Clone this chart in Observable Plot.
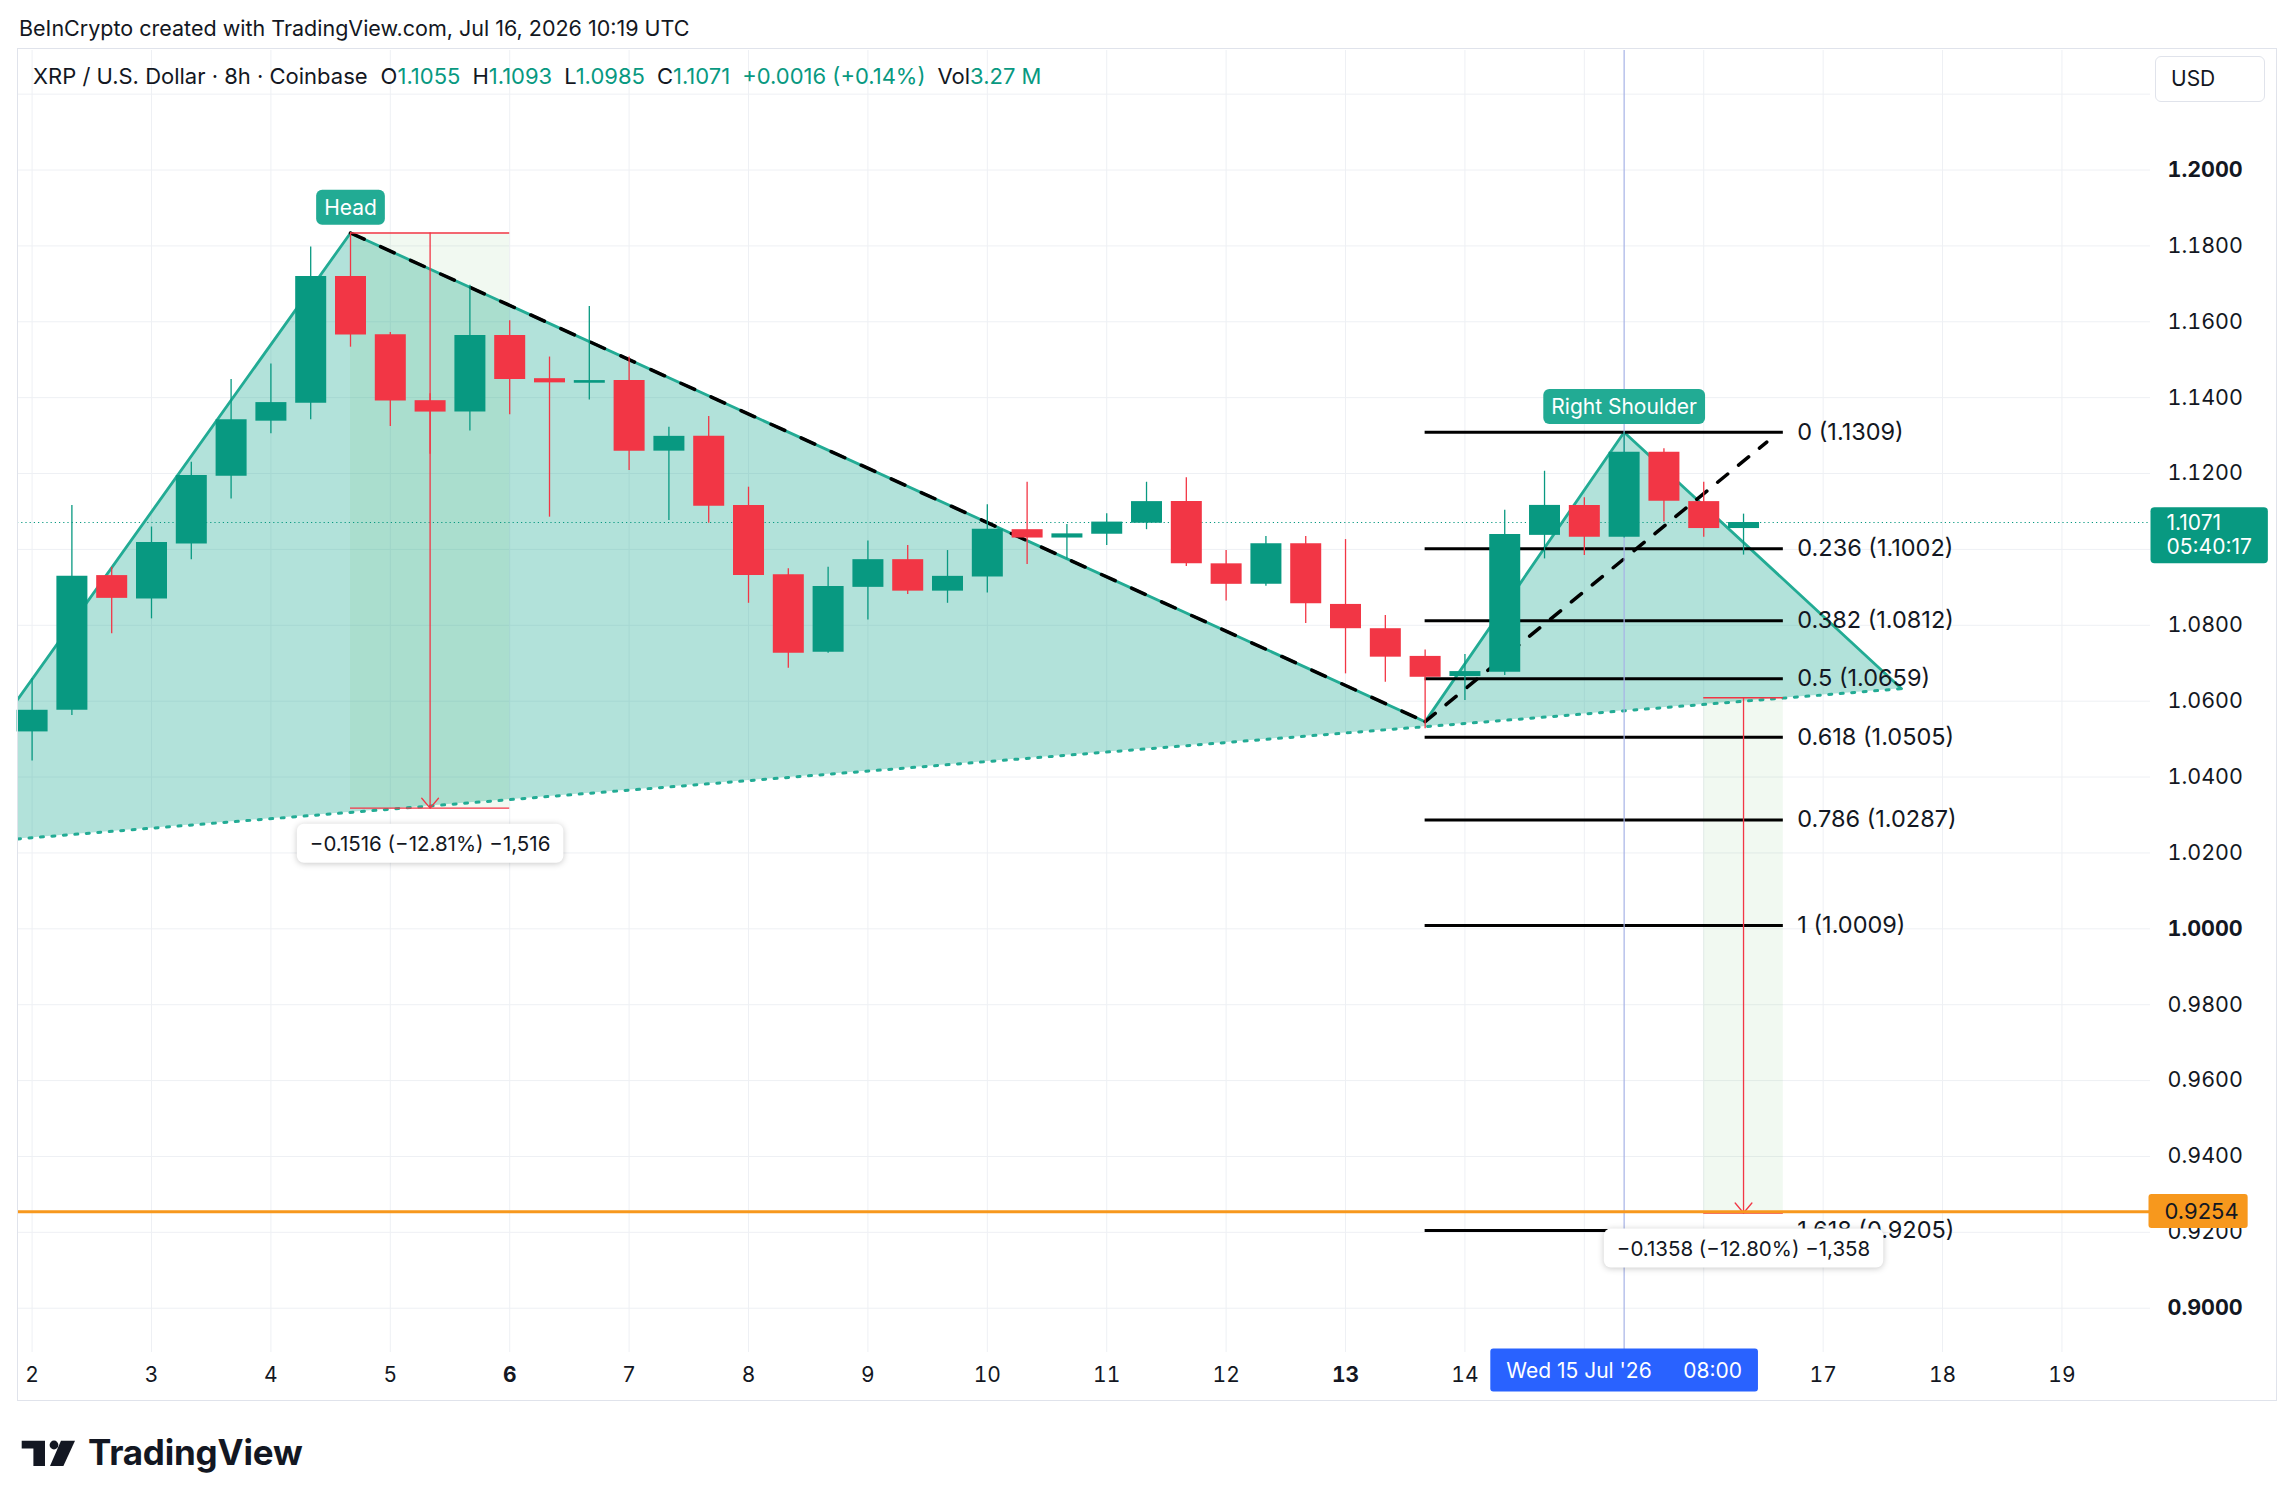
<!DOCTYPE html>
<html><head><meta charset="utf-8">
<script src="https://cdn.jsdelivr.net/npm/d3@7"></script>
<script src="https://cdn.jsdelivr.net/npm/@observablehq/plot@0.6"></script>
<style>
html,body{margin:0;padding:0;background:#fff;}
body{width:2294px;height:1509px;position:relative;overflow:hidden;font-family:Inter,"Noto Sans",sans-serif;color:#131722;}
#credit{position:absolute;left:19px;top:14px;font-size:21.5px;line-height:28px;white-space:pre;}
#frame{position:absolute;left:17px;top:48px;width:2260px;height:1353px;border:1px solid #e0e3eb;box-sizing:border-box;pointer-events:none;}
#chart{position:absolute;left:0;top:48px;}
#legend{position:absolute;left:33px;top:62px;font-size:22px;line-height:28px;white-space:pre;}
#legend .v{color:#089981;}
#usd{position:absolute;left:2155px;top:56px;width:110px;height:46px;box-sizing:border-box;border:1px solid #e0e3eb;border-radius:6px;font-size:21px;line-height:44px;padding-left:15px;background:#fff;}
#logo{position:absolute;left:21px;top:1436px;height:40px;}
#logo svg{position:absolute;left:0;top:4px;}
#logo span{position:absolute;left:67px;top:-4px;font-size:35px;font-weight:700;letter-spacing:-0.2px;line-height:40px;color:#131722;}
</style></head>
<body>
<div id="credit">BeInCrypto created with TradingView.com, Jul 16, 2026 10:19 UTC</div>
<div id="chart"></div>
<div id="legend"></div>
<div id="usd">USD</div>
<div id="frame"></div>
<div id="logo"><svg width="56" height="27" viewBox="0 0 56 27"><path d="M0.7,0.7H24V26H12.4V8.4H0.7Z" fill="#131722"/><circle cx="33" cy="5" r="4.4" fill="#131722"/><path d="M40,0.7H54L42.4,26H29Z" fill="#131722"/></svg><span>TradingView</span></div>
<script>
// ---------- data ----------
const candleTimes = [
  "2026-07-02T00:00Z","2026-07-02T08:00Z","2026-07-02T16:00Z",
  "2026-07-03T00:00Z","2026-07-03T08:00Z","2026-07-03T16:00Z",
  "2026-07-04T00:00Z","2026-07-04T08:00Z","2026-07-04T16:00Z",
  "2026-07-05T00:00Z","2026-07-05T08:00Z","2026-07-05T16:00Z",
  "2026-07-06T00:00Z","2026-07-06T08:00Z","2026-07-06T16:00Z",
  "2026-07-07T00:00Z","2026-07-07T08:00Z","2026-07-07T16:00Z",
  "2026-07-08T00:00Z","2026-07-08T08:00Z","2026-07-08T16:00Z",
  "2026-07-09T00:00Z","2026-07-09T08:00Z","2026-07-09T16:00Z",
  "2026-07-10T00:00Z","2026-07-10T08:00Z","2026-07-10T16:00Z",
  "2026-07-11T00:00Z","2026-07-11T08:00Z","2026-07-11T16:00Z",
  "2026-07-12T00:00Z","2026-07-12T08:00Z","2026-07-12T16:00Z",
  "2026-07-13T00:00Z","2026-07-13T08:00Z","2026-07-13T16:00Z",
  "2026-07-14T00:00Z","2026-07-14T08:00Z","2026-07-14T16:00Z",
  "2026-07-15T00:00Z","2026-07-15T08:00Z","2026-07-15T16:00Z",
  "2026-07-16T00:00Z","2026-07-16T08:00Z"];
const opens  = [1.0519,1.0576,1.0931, 1.0869,1.1014,1.1193, 1.1338,1.1385,1.1719, 1.1566,1.1392,1.1362,
                1.1564,1.1450,1.1438, 1.1445,1.1259,1.1298, 1.1116,1.0933,1.0729, 1.0900,1.0973,1.0890,
                1.0927,1.1052,1.1030, 1.1040,1.1069,1.1126, 1.0962,1.0908,1.1015, 1.0855,1.0791,1.0718,
                1.0665,1.0676,1.1037, 1.1116,1.1032,1.1256, 1.1126,1.1055];
const highs  = [1.0660,1.1116,1.0953, 1.1059,1.1230,1.1448, 1.1489,1.1797,1.1834, 1.1572,1.1410,1.1696,
                1.1603,1.1507,1.1640, 1.1507,1.1322,1.1350, 1.1164,1.0949,1.0953, 1.1022,1.1010,1.0997,
                1.1118,1.1177,1.1066, 1.1094,1.1177,1.1189, 1.0997,1.1034,1.1034, 1.1026,1.0826,1.0735,
                1.0723,1.1103,1.1206, 1.1136,1.1309,1.1265, 1.1177,1.1093];
const lows   = [1.0442,1.0562,1.0778, 1.0817,1.0973,1.1133, 1.1305,1.1342,1.1533, 1.1324,1.1251,1.1312,
                1.1355,1.1085,1.1394, 1.1208,1.1076,1.1069, 1.0858,1.0687,1.0726, 1.0814,1.0881,1.0858,
                1.0885,1.0960,1.0975, 1.1010,1.1052,1.0955, 1.0864,1.0903,1.0805, 1.0672,1.0650,1.0527,
                1.0602,1.0668,1.0975, 1.0984,1.1030,1.1072, 1.1032,1.0985];
const closes = [1.0576,1.0929,1.0871, 1.1018,1.1195,1.1342, 1.1387,1.1719,1.1565, 1.1391,1.1362,1.1564,
                1.1448,1.1439,1.1445, 1.1259,1.1298,1.1114, 1.0931,1.0726,1.0902, 1.0973,1.0890,1.0929,
                1.1053,1.1030,1.1041, 1.1072,1.1126,1.0962, 1.0908,1.1015,1.0857, 1.0791,1.0716,1.0663,
                1.0678,1.1039,1.1116, 1.1032,1.1256,1.1127, 1.1055,1.1071];
const lastVolume = "3.27 M";
const countdown = "05:40:17";

// head & shoulders drawing
const patternTimes  = ["2026-07-01T21:04Z","2026-07-04T16:00Z","2026-07-13T16:00Z","2026-07-15T08:00Z","2026-07-17T15:46Z"];
const patternPrices = [1.0604, 1.1834, 1.0546, 1.1309, 1.0633];
const necklineTimes  = ["2026-07-01T21:04Z","2026-07-17T15:46Z"];
const necklinePrices = [1.0237, 1.0633];
const patternLabels = ["Head", "Right Shoulder"];
const patternLabelTimes = ["2026-07-04T16:00Z","2026-07-15T08:00Z"];
const patternLabelPrices = [1.1834, 1.1309];
const trendTimes  = ["2026-07-13T16:00Z","2026-07-16T12:40Z"];
const trendPrices = [1.0546, 1.1283];

// fibonacci retracement
const fibLevels = [0, 0.236, 0.382, 0.5, 0.618, 0.786, 1, 1.618];
const fibPrices = [1.1309, 1.1002, 1.0812, 1.0659, 1.0505, 1.0287, 1.0009, 0.9205];
const fibStart = "2026-07-13T16:00Z", fibEnd = "2026-07-16T16:00Z";

// price-range measurements
const measureStart = ["2026-07-04T16:00Z","2026-07-16T00:00Z"];
const measureEnd   = ["2026-07-06T00:00Z","2026-07-16T16:00Z"];
const measureMid   = ["2026-07-05T08:00Z","2026-07-16T08:00Z"];
const measureFrom  = [1.1834, 1.0609];
const measureTo    = [1.0318, 0.9251];

// horizontal support, crosshair
const supportPrice = 0.9254;
const crossTime = "2026-07-15T08:00Z";
const crossLabel = "Wed 15 Jul '26\u2003\u200208:00";

// axes (labels hidden under the crosshair / last-price tags are left out)
const xGridDays = [2,3,4,5,6,7,8,9,10,11,12,13,14,15,16,17,18,19];
const xTickDays = [2,3,4,5,6,7,8,9,10,11,12,13,14,17,18,19];
const boldDays = [6,13];
const yTicks = [0.90,0.92,0.94,0.96,0.98,1.00,1.02,1.04,1.06,1.08,1.12,1.14,1.16,1.18,1.20];
const boldY = [0.90,1.00,1.20];
const yGrid = [0.90,0.92,0.94,0.96,0.98,1.00,1.02,1.04,1.06,1.08,1.10,1.12,1.14,1.16,1.18,1.20,1.22];

// ---------- build ----------
const UP = "#089981", DOWN = "#f23645", TEAL = "#22ab94", RED = "#f23645";
const D = s => new Date(s);
const candles = candleTimes.map((t, i) => ({date: D(t), open: opens[i], high: highs[i], low: lows[i], close: closes[i]}));
const pattern = patternTimes.map((t, i) => ({date: D(t), price: patternPrices[i]}));
const neckline = necklineTimes.map((t, i) => ({date: D(t), price: necklinePrices[i]}));
const trend = trendTimes.map((t, i) => ({date: D(t), price: trendPrices[i]}));
const headSeg = pattern.slice(1, 3);
const fibs = fibLevels.map((l, i) => ({level: l, price: fibPrices[i]}));
const labels = patternLabels.map((t, i) => ({text: t, date: D(patternLabelTimes[i]), price: patternLabelPrices[i]}));
const measures = measureStart.map((s, i) => ({x1: D(s), x2: D(measureEnd[i]), xm: D(measureMid[i]), from: measureFrom[i], to: measureTo[i]}));
const minus = s => s.replace(/-/g, "\u2212");
const measureText = m => {
  const diff = m.to - m.from;
  return minus(`${diff.toFixed(4)} (${(diff / m.from * 100).toFixed(2)}%) ${d3.format(",")(Math.round(diff * 10000))}`);
};
const dayDate = d => new Date(Date.UTC(2026, 6, d));
const last = candles[candles.length - 1];
const prev = candles[candles.length - 2];

// polygon fill of the pattern, drawn through the plot's scales
const polygonFill = (index, scales) => {
  const pts = pattern.concat([neckline[0]]);
  const p = document.createElementNS("http://www.w3.org/2000/svg", "path");
  p.setAttribute("d", "M" + pts.map(q => scales.x(q.date) + "," + scales.y(q.price)).join("L") + "Z");
  p.setAttribute("fill", TEAL);
  p.setAttribute("fill-opacity", 0.35);
  return p;
};

const chart = Plot.plot({
  width: 2294, height: 1352,
  marginLeft: 17, marginRight: 144, marginTop: 2, marginBottom: 48,
  style: {fontFamily: "Inter, 'Noto Sans', sans-serif", fontSize: "21px", color: "#131722", background: "transparent", overflow: "visible"},
  x: {type: "utc", domain: [new Date(Date.UTC(2026,6,1,21,4)), new Date(Date.UTC(2026,6,19,17,48))], axis: null},
  y: {domain: [0.88833, 1.2315], axis: null},
  marks: [
    Plot.gridX(xGridDays.map(dayDate), {stroke: "#eef0f4", strokeOpacity: 1}),
    Plot.gridY(yGrid, {stroke: "#eef0f4", strokeOpacity: 1}),
    polygonFill,
    Plot.rect(measures, {x1: "x1", x2: "x2", y1: "to", y2: "from", fill: "#4caf50", fillOpacity: 0.08}),
    Plot.ruleY([last.close], {stroke: UP, strokeWidth: 1.2, strokeDasharray: "1.2,3"}),
    Plot.line(neckline, {x: "date", y: "price", stroke: TEAL, strokeWidth: 3, strokeDasharray: "3,8.5", clip: true}),
    Plot.line(pattern, {x: "date", y: "price", stroke: TEAL, strokeWidth: 2.8, clip: true}),
    Plot.ruleY(fibs, {y: "price", x1: D(fibStart), x2: D(fibEnd), stroke: "#000", strokeWidth: 3}),
    Plot.line(headSeg, {x: "date", y: "price", stroke: "#000", strokeWidth: 3.5, strokeDasharray: "15,18"}),
    Plot.line(trend, {x: "date", y: "price", stroke: "#000", strokeWidth: 3.5, strokeDasharray: "13,14"}),
    Plot.ruleY(measures, {y: "from", x1: "x1", x2: "x2", stroke: RED, strokeWidth: 1.3}),
    Plot.ruleY(measures, {y: "to", x1: "x1", x2: "x2", stroke: RED, strokeWidth: 1.3}),
    Plot.arrow(measures, {x1: "xm", x2: "xm", y1: "from", y2: "to", stroke: RED, strokeWidth: 1.3, headLength: 15, headAngle: 80}),
    Plot.ruleX([D(crossTime)], {stroke: "#a6b2e6", strokeWidth: 1.2}),
    Plot.ruleY([supportPrice], {stroke: "#f7981d", strokeWidth: 3}),
    Plot.ruleX(candles, {x: "date", y1: "low", y2: "high", stroke: d => d.close >= d.open ? UP : DOWN, strokeWidth: 1.3}),
    Plot.ruleX(candles, {x: "date", y1: "open", y2: "close", stroke: d => d.close >= d.open ? UP : DOWN, strokeWidth: 31}),
    Plot.axisY(yTicks.filter(v => !boldY.includes(v)), {anchor: "right", tickSize: 0, tickPadding: 17, tickFormat: d => d.toFixed(4), fontSize: 21.5, color: "#131722", label: null}),
    Plot.axisY(boldY, {anchor: "right", tickSize: 0, tickPadding: 17, tickFormat: d => d.toFixed(4), fontSize: 21.5, fontWeight: "bold", color: "#131722", label: null}),
    Plot.axisX(xTickDays.filter(d => !boldDays.includes(d)).map(dayDate), {anchor: "bottom", tickSize: 0, tickPadding: 15, tickFormat: d => d.getUTCDate(), fontSize: 21, color: "#131722", label: null}),
    Plot.axisX(boldDays.map(dayDate), {anchor: "bottom", tickSize: 0, tickPadding: 15, tickFormat: d => d.getUTCDate(), fontSize: 21, fontWeight: "bold", color: "#131722", label: null}),
    Plot.text(fibs, {x: D(fibEnd), y: "price", text: d => `${d.level} (${d.price.toFixed(4)})`, dx: 14, textAnchor: "start", fontSize: 23.5, fill: "#131722"}),
    Plot.text(labels, {x: "date", y: "price", text: "text", dy: -25, fontSize: 21, fill: "white", className: "box-teal"}),
    Plot.text(measures, {x: "xm", y: "to", text: measureText, dy: 36, fontSize: 20.5, fill: "#131722", className: "box-white"}),
    Plot.text([last.close], {y: d => d, frameAnchor: "right", dx: 16, dy: 12, textAnchor: "start", lineHeight: 1.15, text: d => d.toFixed(4) + "\n" + countdown, fontSize: 21, fill: "white", className: "box-price"}),
    Plot.text([supportPrice], {y: d => d, frameAnchor: "right", dx: 14, textAnchor: "start", text: d => d.toFixed(4), fontSize: 22, fill: "#131722", className: "box-orange"}),
    Plot.text([D(crossTime)], {x: d => d, frameAnchor: "bottom", dy: 25, text: () => crossLabel, fontSize: 21, fill: "white", className: "box-blue"})
  ]
});
document.getElementById("chart").appendChild(chart);

// rounded label backgrounds behind label texts
function addBoxes(cls, fill, padL, padR, padT, padB, rx, extra) {
  chart.querySelectorAll(`g.${cls} text`).forEach(t => {
    const b = t.getBBox();
    const r = document.createElementNS("http://www.w3.org/2000/svg", "rect");
    r.setAttribute("x", b.x - padL);
    r.setAttribute("y", b.y - padT);
    r.setAttribute("width", b.width + padL + padR);
    r.setAttribute("height", b.height + padT + padB);
    r.setAttribute("rx", rx);
    r.setAttribute("fill", fill);
    if (t.getAttribute("transform")) r.setAttribute("transform", t.getAttribute("transform"));
    if (extra) r.setAttribute("style", extra);
    t.parentNode.insertBefore(r, t);
  });
}
addBoxes("box-teal", TEAL, 8, 8, 5, 5, 6);
addBoxes("box-white", "#ffffff", 13, 13, 7, 7, 7, "filter: drop-shadow(0 1px 3px rgba(0,0,0,0.22))");
addBoxes("box-price", UP, 16, 16, 3, 4, 4);
addBoxes("box-orange", "#f7981d", 16, 9, 4, 4, 3);
addBoxes("box-blue", "#2962ff", 16, 16, 9, 9, 3);

// legend (OHLC of the last bar)
const chg = last.close - prev.close;
const sign = v => (v >= 0 ? "+" : "\u2212") + Math.abs(v).toFixed(4);
document.getElementById("legend").innerHTML =
  `XRP / U.S. Dollar · 8h · Coinbase<span style="margin-left:13px">O</span><span class="v">${last.open.toFixed(4)}</span>` +
  `<span style="margin-left:12px">H</span><span class="v">${last.high.toFixed(4)}</span>` +
  `<span style="margin-left:12px">L</span><span class="v">${last.low.toFixed(4)}</span>` +
  `<span style="margin-left:12px">C</span><span class="v">${last.close.toFixed(4)}</span>` +
  `<span class="v" style="margin-left:12px">${sign(chg)} (${chg >= 0 ? "+" : "\u2212"}${Math.abs(chg / prev.close * 100).toFixed(2)}%)</span>` +
  `<span style="margin-left:12px">Vol</span><span class="v">${lastVolume}</span>`;
</script>
</body></html>
